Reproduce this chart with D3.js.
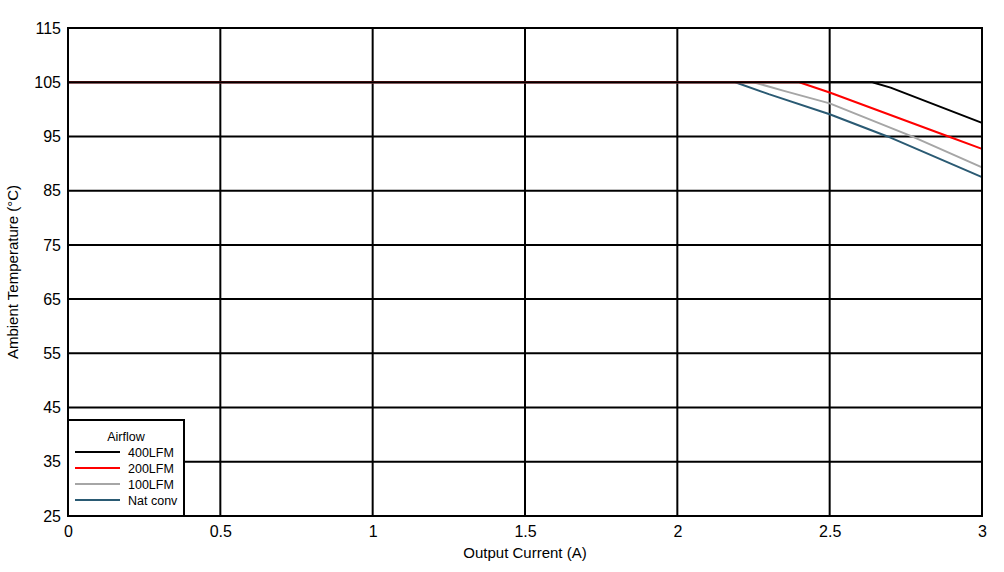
<!DOCTYPE html>
<html>
<head>
<meta charset="utf-8">
<script src="https://cdn.jsdelivr.net/npm/d3@7"></script>
<style>
  body { margin: 0; background: #fff; }
  text { font-family: "Liberation Sans", Arial, sans-serif; }
</style>
</head>
<body>
<svg id="chart" width="1004" height="572"></svg>
<script>
// data
var xTicks = [0, 0.5, 1, 1.5, 2, 2.5, 3];
var yTicks = [25, 35, 45, 55, 65, 75, 85, 95, 105, 115];

var seriesNames = ['400LFM', '200LFM', '100LFM', 'Nat conv'];
var seriesColors = ['#000000', '#ff0000', '#a6a6a6', '#2a5a73'];

var lfm400 = [[0, 105], [2.64, 105], [2.7, 104], [3, 97.5]];
var lfm200 = [[0, 105], [2.4, 105], [2.5, 103.1], [2.89, 95], [3, 92.7]];
var lfm100 = [[0, 105], [2.25, 105], [2.35, 103.4], [2.5, 101.1], [2.77, 95], [3, 89.3]];
var natConv = [[0, 105], [2.19, 105], [2.3, 102.8], [2.5, 99.1], [2.69, 95], [3, 87.5]];

var allSeries = [lfm400, lfm200, lfm100, natConv];

var svg = d3.select('#chart');
var pLeft = 68, pRight = 982, pTop = 28, pBottom = 516;

var x = d3.scaleLinear().domain([0, 3]).range([pLeft, pRight]);
var y = d3.scaleLinear().domain([25, 115]).range([pBottom, pTop]);

// grid
var grid = svg.append('g').attr('stroke', '#000').attr('stroke-width', 2);
grid.selectAll('.vx').data(xTicks).enter().append('line')
  .attr('x1', function (d) { return x(d); }).attr('x2', function (d) { return x(d); })
  .attr('y1', pTop).attr('y2', pBottom);
grid.selectAll('.hy').data(yTicks).enter().append('line')
  .attr('y1', function (d) { return y(d); }).attr('y2', function (d) { return y(d); })
  .attr('x1', pLeft).attr('x2', pRight);

// tick labels
svg.append('g').attr('transform', 'translate(0,' + pBottom + ')')
  .call(d3.axisBottom(x).tickValues(xTicks).tickSize(0).tickPadding(10).tickFormat(d3.format('')))
  .call(function (g) { g.select('.domain').remove(); })
  .selectAll('text').attr('font-size', 16).attr('font-family', '"Liberation Sans", Arial, sans-serif').attr('fill', '#000');

svg.append('g').attr('transform', 'translate(' + pLeft + ',0)')
  .call(d3.axisLeft(y).tickValues(yTicks).tickSize(0).tickPadding(7))
  .call(function (g) { g.select('.domain').remove(); })
  .selectAll('text').attr('font-size', 16).attr('font-family', '"Liberation Sans", Arial, sans-serif').attr('fill', '#000');

// lines
var line = d3.line()
  .x(function (d) { return x(d[0]); })
  .y(function (d) { return y(d[1]); });

// draw bottom series first so 400LFM ends on top like the reference
svg.selectAll('.series').data(allSeries.slice().reverse()).enter().append('path')
  .attr('fill', 'none')
  .attr('stroke-width', 2)
  .attr('stroke-linejoin', 'round')
  .attr('stroke', function (d, i) { return seriesColors[seriesColors.length - 1 - i]; })
  .attr('d', line);

// frame
svg.append('rect').attr('x', pLeft).attr('y', pTop)
  .attr('width', pRight - pLeft).attr('height', pBottom - pTop)
  .attr('fill', 'none').attr('stroke', '#000').attr('stroke-width', 2);

// legend
var lg = svg.append('g');
lg.append('rect').attr('x', 68).attr('y', 420).attr('width', 116).attr('height', 96)
  .attr('fill', '#fff').attr('stroke', '#000').attr('stroke-width', 2);
lg.append('text').attr('x', 126).attr('y', 441).attr('text-anchor', 'middle')
  .attr('font-size', 12.5).text('Airflow');
seriesNames.forEach(function (name, i) {
  var yy = 452 + i * 16;
  lg.append('line').attr('x1', 75).attr('x2', 120).attr('y1', yy).attr('y2', yy)
    .attr('stroke', seriesColors[i]).attr('stroke-width', 2);
  lg.append('text').attr('x', 128).attr('y', yy + 4.5).attr('font-size', 12.5).text(name);
});

// axis titles
svg.append('text').attr('x', (pLeft + pRight) / 2).attr('y', 558).attr('text-anchor', 'middle')
  .attr('font-size', 15).text('Output Current (A)');
svg.append('text').attr('transform', 'translate(18,' + ((pTop + pBottom) / 2) + ') rotate(-90)')
  .attr('text-anchor', 'middle').attr('font-size', 15).text('Ambient Temperature (°C)');
</script>
</body>
</html>
